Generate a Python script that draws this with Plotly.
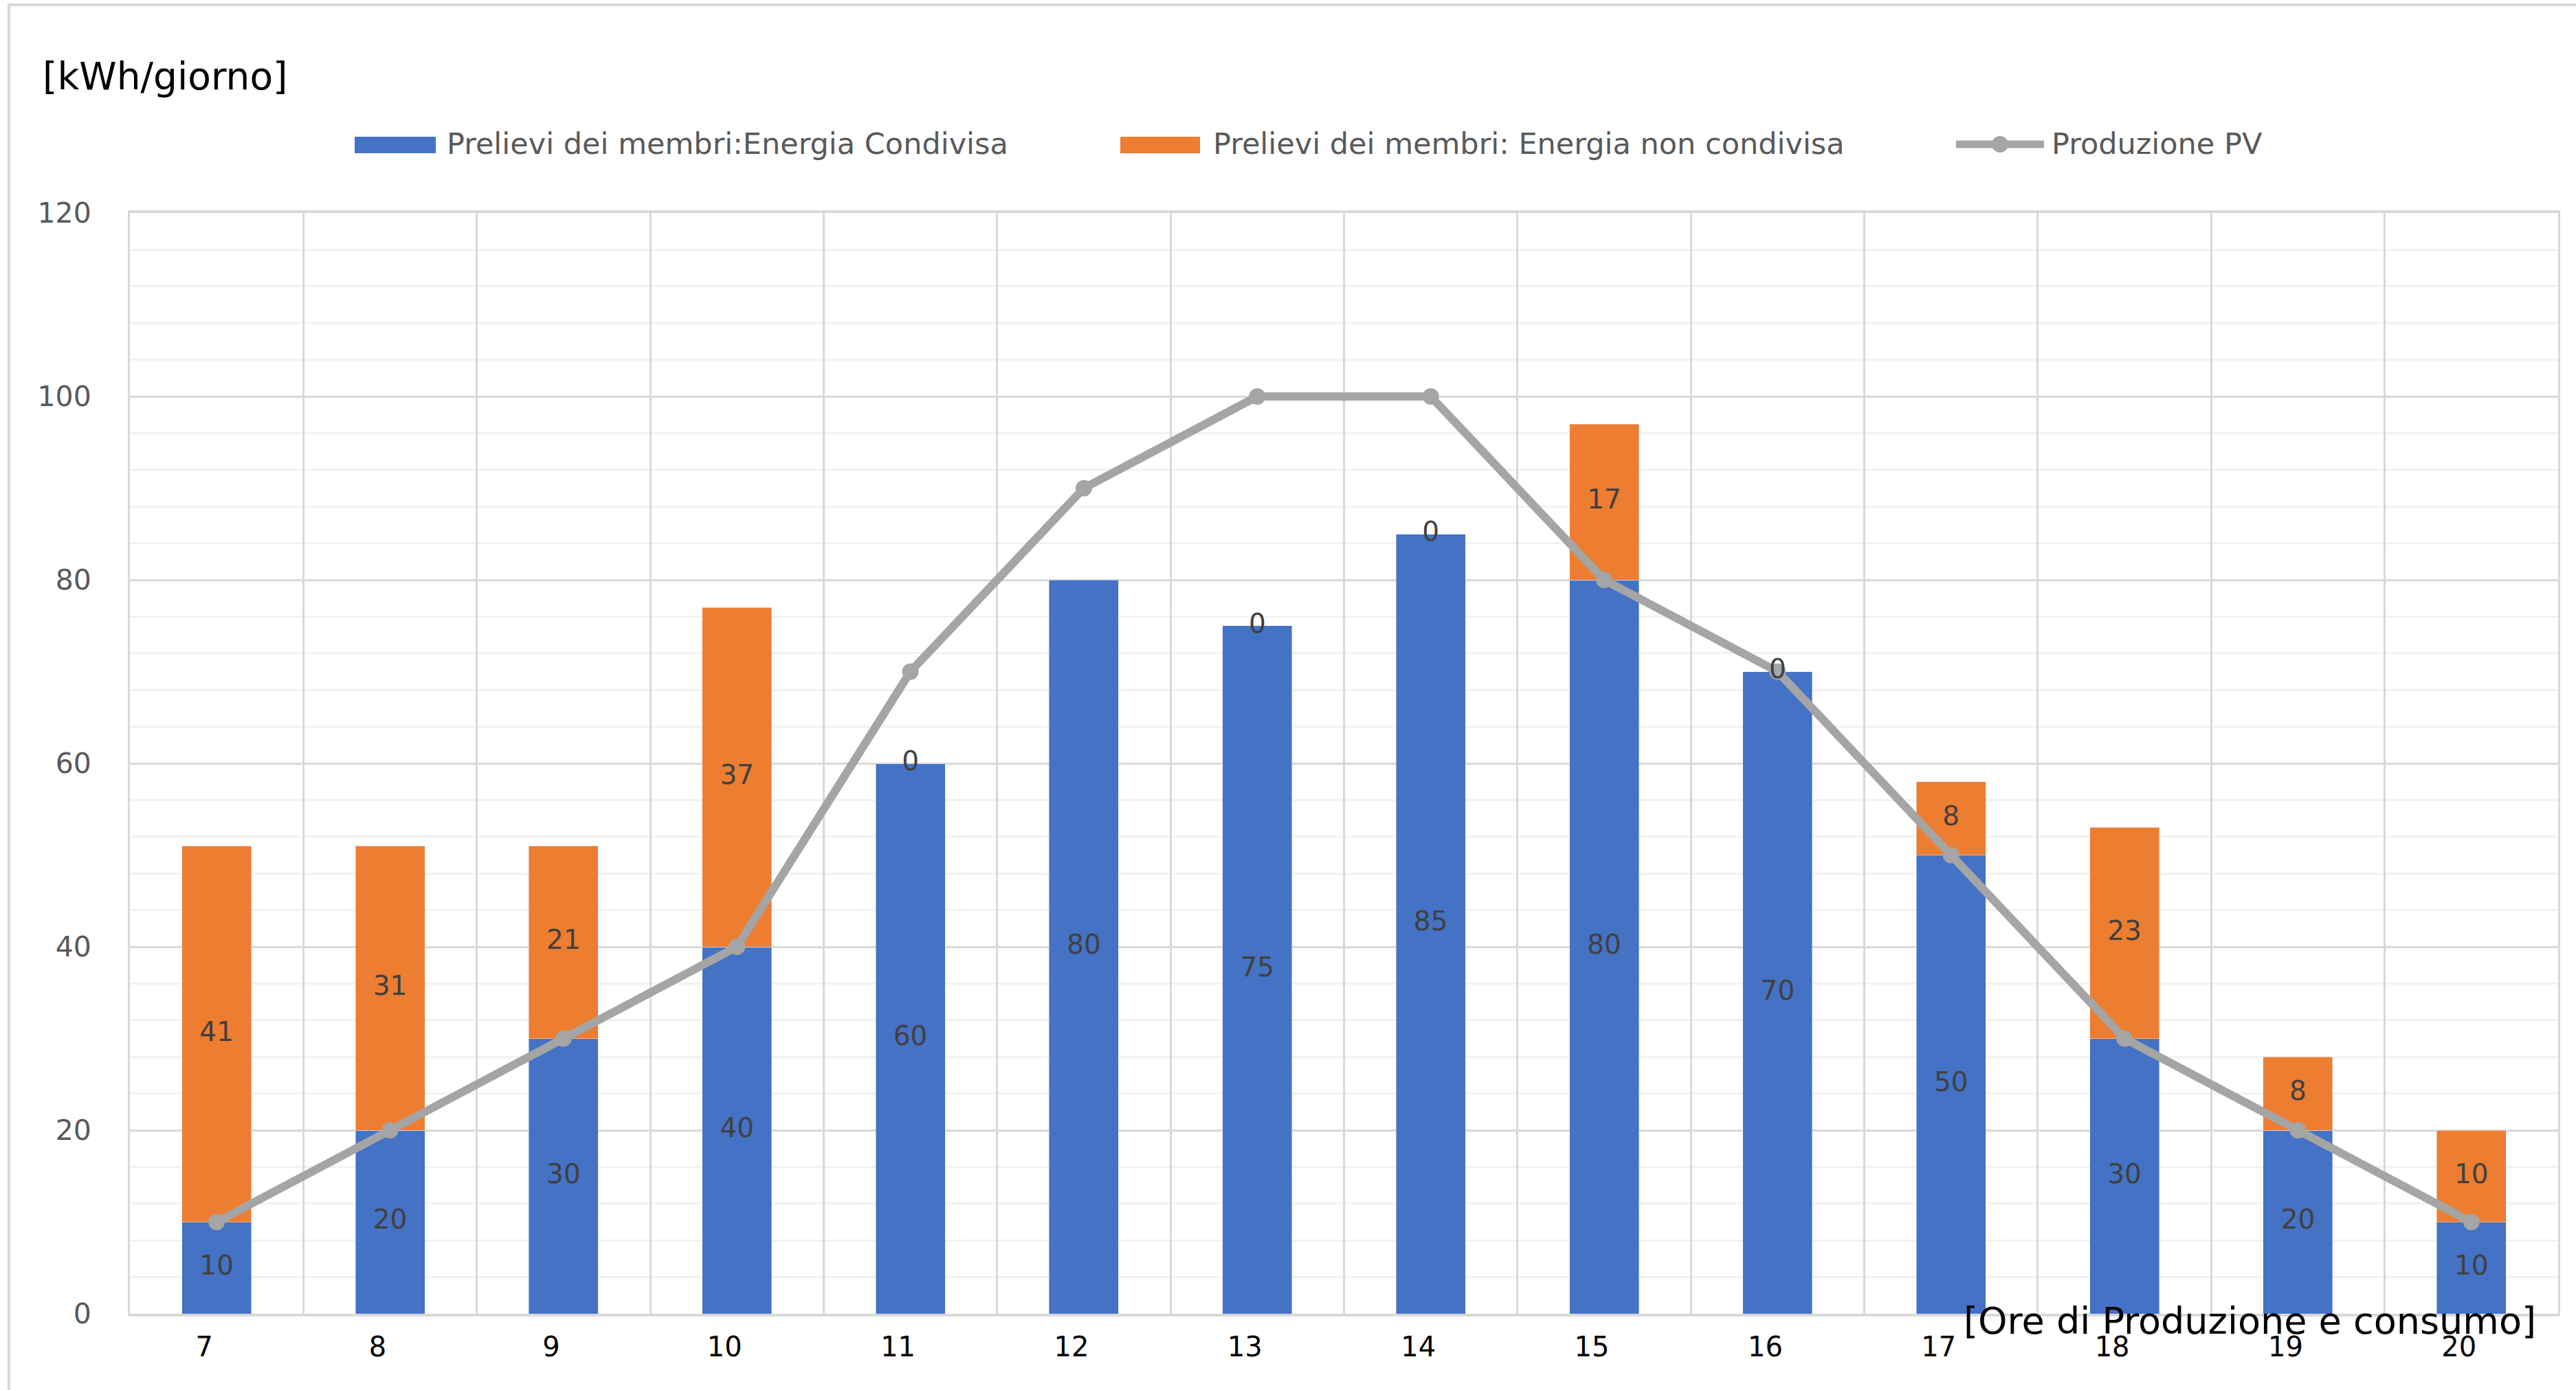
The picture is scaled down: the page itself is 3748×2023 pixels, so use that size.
import plotly.graph_objects as go

# Hourly energy balance of the energy community
hours = ["7", "8", "9", "10", "11", "12", "13", "14", "15", "16", "17", "18", "19", "20"]
shared = [10, 20, 30, 40, 60, 80, 75, 85, 80, 70, 50, 30, 20, 10]
non_shared = [41, 31, 21, 37, 0, None, 0, 0, 17, 0, 8, 23, 8, 10]
pv = [10, 20, 30, 40, 70, 90, 100, 100, 80, 70, 50, 30, 20, 10]

series_names = [
    "Prelievi dei membri:Energia Condivisa",
    "Prelievi dei membri: Energia non condivisa",
    "Produzione PV",
]
y_title = "[kWh/giorno]"
x_title = "[Ore di Produzione e consumo]"

BLUE = "#4472C4"
ORANGE = "#ED7D31"
GREY = "#A5A5A5"
FONT = "DejaVu Sans"

W, H = 3748, 2023
ML, MR, MT, MB = 189, 26, 310, 111
PW = W - ML - MR
PH = H - MT - MB


def px_x(px):
    return (px - ML) / PW


def px_y(py):
    return (H - MB - py) / PH


fig = go.Figure()

fig.add_trace(go.Bar(x=hours, y=shared, marker_color=BLUE, name=series_names[0],
                     showlegend=False))
fig.add_trace(go.Bar(x=hours, y=non_shared, marker_color=ORANGE, name=series_names[1],
                     showlegend=False))
fig.add_trace(go.Scatter(x=hours, y=pv, mode="lines+markers", name=series_names[2],
                         line=dict(color=GREY, width=12),
                         marker=dict(color=GREY, size=24), showlegend=False))

# data labels centred in each stacked segment
lab_font = dict(family=FONT, size=39, color="#404040")
fig.add_trace(go.Scatter(x=hours, y=[v / 2 for v in shared], mode="text",
                         text=[str(v) for v in shared], textfont=lab_font,
                         textposition="middle center", showlegend=False, hoverinfo="skip"))
ns_x = [h for h, v in zip(hours, non_shared) if v is not None]
ns_y = [s + v / 2 for s, v in zip(shared, non_shared) if v is not None]
ns_t = [str(v) for v in non_shared if v is not None]
fig.add_trace(go.Scatter(x=ns_x, y=ns_y, mode="text", text=ns_t, textfont=lab_font,
                         textposition="middle center", showlegend=False, hoverinfo="skip"))

shapes = []
annotations = []

# outer chart frame (top and left edges)
shapes.append(dict(type="line", xref="paper", yref="paper",
                   x0=px_x(11), x1=px_x(W), y0=px_y(7), y1=px_y(7),
                   line=dict(color="#D9D9D9", width=4)))
shapes.append(dict(type="line", xref="paper", yref="paper",
                   x0=px_x(13), x1=px_x(13), y0=px_y(7), y1=px_y(H),
                   line=dict(color="#D9D9D9", width=4)))

# legend row
leg_font = dict(family=FONT, size=43, color="#595959")
leg_y = 209
for (x0, x1, tx, color, name) in [
    (516, 634, 648, BLUE, series_names[0]),
    (1630, 1746, 1763, ORANGE, series_names[1]),
]:
    shapes.append(dict(type="rect", xref="paper", yref="paper",
                       x0=px_x(x0), x1=px_x(x1), y0=px_y(199), y1=px_y(223),
                       fillcolor=color, line=dict(width=0)))
    annotations.append(dict(text=name, xref="paper", yref="paper", x=px_x(tx), y=px_y(leg_y),
                            xanchor="left", yanchor="middle", showarrow=False, font=leg_font))
shapes.append(dict(type="line", xref="paper", yref="paper",
                   x0=px_x(2846), x1=px_x(2974), y0=px_y(210), y1=px_y(210),
                   line=dict(color=GREY, width=11)))
shapes.append(dict(type="circle", xref="paper", yref="paper",
                   x0=px_x(2898), x1=px_x(2922), y0=px_y(198), y1=px_y(222),
                   fillcolor=GREY, line=dict(width=0)))
annotations.append(dict(text=series_names[2], xref="paper", yref="paper", x=px_x(2983),
                        y=px_y(leg_y), xanchor="left", yanchor="middle", showarrow=False,
                        font=leg_font))

# axis titles
annotations.append(dict(text=y_title, xref="paper", yref="paper", x=px_x(60), y=px_y(111),
                        xanchor="left", yanchor="middle", showarrow=False,
                        font=dict(family=FONT, size=55, color="#000000")))
annotations.append(dict(text=x_title, xref="paper", yref="paper", x=px_x(3692), y=px_y(1923),
                        xanchor="right", yanchor="middle", showarrow=False,
                        font=dict(family=FONT, size=54, color="#000000")))

fig.update_layout(
    width=W, height=H,
    margin=dict(l=ML, r=MR, t=MT, b=MB),
    paper_bgcolor="white", plot_bgcolor="white",
    barmode="stack", bargap=0.6,
    showlegend=False,
    shapes=shapes, annotations=annotations,
    xaxis=dict(type="category", range=[-0.5, 13.5], tickson="boundaries",
               showgrid=True, gridcolor="#D9D9D9", gridwidth=3,
               showline=True, linecolor="#D9D9D9", linewidth=4, mirror=True,
               ticks="", ticklabelstandoff=10, ticklabelshift=-18,
               tickfont=dict(family=FONT, size=40, color="#000000")),
    yaxis=dict(range=[0, 120], dtick=20, tick0=0,
               showgrid=True, gridcolor="#D9D9D9", gridwidth=3,
               minor=dict(dtick=4, showgrid=True, gridcolor="#F2F2F2", gridwidth=3),
               showline=True, linecolor="#D9D9D9", linewidth=3, mirror=True,
               zeroline=False, ticks="", ticklabelstandoff=45,
               tickfont=dict(family=FONT, size=41, color="#595959")),
)

fig.write_html("out.html")
